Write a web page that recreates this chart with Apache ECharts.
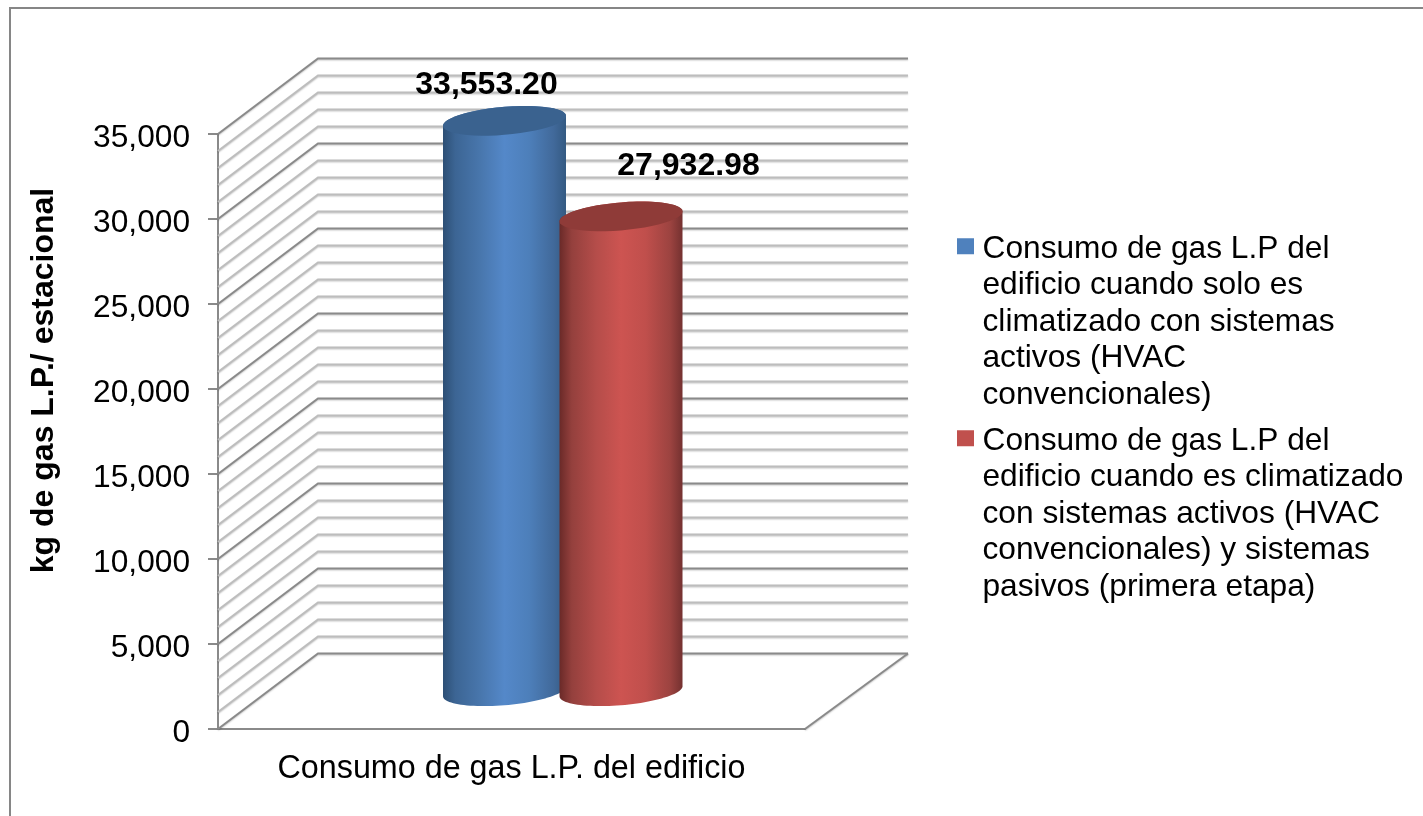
<!DOCTYPE html>
<html>
<head>
<meta charset="utf-8">
<style>html,body{margin:0;padding:0;background:#fff}#c{width:1423px;height:816px}</style>
<script src="https://cdn.jsdelivr.net/npm/echarts@6/dist/echarts.min.js"></script>
</head>
<body>
<div id="c"></div>
<script>
const categories = ['Consumo de gas L.P. del edificio'];
const serieNames = [
  ['Consumo de gas L.P del','edificio cuando solo es','climatizado con sistemas','activos (HVAC','convencionales)'],
  ['Consumo de gas L.P del','edificio cuando es climatizado','con sistemas activos (HVAC','convencionales) y sistemas','pasivos (primera etapa)']
];
const valoresActivos = [33553.20];
const valoresPasivos = [27932.98];
const etiquetasActivos = ['33,553.20'];
const etiquetasPasivos = ['27,932.98'];
const wallTicks = [0,1000,2000,3000,4000,5000,6000,7000,8000,9000,10000,11000,12000,13000,14000,15000,16000,17000,18000,19000,20000,21000,22000,23000,24000,25000,26000,27000,28000,29000,30000,31000,32000,33000,34000,35000];

const FONT = '"Liberation Sans", Arial, sans-serif';
const FS = 31.7, DX = 100, DY = 75.5, BACK_EXTRA = 103;
const RX = 61.5, RY = 14, SK = 5;

function wall(params, api) {
  const t = api.value(1);
  const y = api.coord([0, t])[1];
  const cs = params.coordSys;
  const major = t % 5000 === 0;
  const pts = [[cs.x, y],[cs.x + DX, y - DY],[cs.x + cs.width + BACK_EXTRA, y - DY]];
  const style = {fill:'none', stroke: major ? '#8a8a8a' : '#bdbdbd', lineWidth: 2,
    shadowColor:'rgba(0,0,0,0.22)', shadowBlur:1.5, shadowOffsetY:1};
  const kids = [{type:'polyline', shape:{points:pts}, style}];
  if (t === 0) {
    kids.push({type:'polyline', shape:{points:[[cs.x + cs.width, y],[cs.x + cs.width + BACK_EXTRA, y - DY]]}, style});
  }
  return {type:'group', children:kids};
}

function ellipsePts(cx, cy, from, to) {
  const out = [];
  for (let i = 0; i <= 48; i++) {
    const a = from + (to - from) * i / 48;
    out.push([cx + RX * Math.cos(a), cy + RY * Math.sin(a) - SK * Math.cos(a)]);
  }
  return out;
}

function cylinder(shift, stops, topColor, text, lx, ly) {
  return function (params, api) {
    const top = api.coord([api.value(0), api.value(1)]);
    const base = api.coord([api.value(0), 0]);
    const cx = top[0] + DX / 2 + shift;
    const topY = top[1] - DY / 2, baseY = base[1] - DY / 2;
    const body = ellipsePts(cx, baseY, 0, Math.PI).concat(ellipsePts(cx, topY, Math.PI, 2 * Math.PI));
    return {type:'group', children:[
      {type:'polygon', shape:{points:body}, style:{fill:{type:'linear',x:0,y:0,x2:1,y2:0,colorStops:stops}}},
      {type:'polygon', shape:{points:ellipsePts(cx, topY, 0, 2 * Math.PI)}, style:{fill:topColor}},
      {type:'text', x:cx + lx, y:topY + ly, style:{text:text, fill:'#000', font:'bold 32px ' + FONT, textAlign:'center', textVerticalAlign:'middle'}}
    ]};
  };
}

const blueStops = [{offset:0,color:'#2d4f75'},{offset:.1,color:'#3c6594'},{offset:.3,color:'#4876ac'},{offset:.5,color:'#5488c9'},{offset:.7,color:'#4d7fba'},{offset:.9,color:'#41699a'},{offset:1,color:'#345a82'}];
const redStops = [{offset:0,color:'#6a2a28'},{offset:.1,color:'#94403d'},{offset:.3,color:'#b54d4a'},{offset:.5,color:'#cd5451'},{offset:.7,color:'#c04f4c'},{offset:.9,color:'#9c4340'},{offset:1,color:'#743130'}];

const names = serieNames.map(l => l.join(' '));
const chart = echarts.init(document.getElementById('c'), null, {renderer:'canvas', width:1423, height:816});
chart.setOption({
  animation:false,
  backgroundColor:'#ffffff',
  textStyle:{fontFamily:FONT},
  grid:{left:218, top:134, width:587, height:595, containLabel:false},
  xAxis:{type:'category', data:categories,
    axisLine:{lineStyle:{color:'#8a8a8a',width:2}}, axisTick:{show:false},
    axisLabel:{color:'#000',fontSize:32.3,fontFamily:FONT,margin:24}},
  yAxis:{type:'value', min:0, max:35000, interval:5000, splitLine:{show:false},
    name:'kg de gas L.P./ estacional', nameLocation:'middle', nameGap:158, nameRotate:90,
    nameTextStyle:{color:'#000',fontSize:32,fontWeight:'bold',fontFamily:FONT,padding:[0,0,0,102]},
    axisLine:{show:true,lineStyle:{color:'#8a8a8a',width:2}},
    axisTick:{show:true,length:10,lineStyle:{color:'#8a8a8a',width:2}},
    axisLabel:{color:'#000',fontSize:FS,fontFamily:FONT,margin:28,verticalAlign:'top',lineHeight:9,
      formatter:v=>v.toLocaleString('en-US')}},
  legend:{orient:'vertical', left:957, top:231, padding:0, itemGap:9.5, itemWidth:20.5, itemHeight:182, data:names,
    icon:'path://M0 0M0 7H17V23H0ZM20.5 182',
    selectedMode:false, itemStyle:{borderWidth:0},
    formatter:n=>serieNames[names.indexOf(n)].join('\n'),
    textStyle:{color:'#000',fontSize:FS,lineHeight:36.5,fontFamily:FONT}},
  graphic:[{type:'polyline', silent:true, shape:{points:[[10,816],[10,8],[1423,8]]}, style:{fill:'none',stroke:'#868686',lineWidth:2}}],
  series:[
    {type:'custom', name:'Cuadrícula', silent:true, z:1, renderItem:wall, encode:{x:0,y:1}, data:wallTicks.map(t=>[0,t])},
    {type:'custom', name:names[0], z:2, itemStyle:{color:'#4f81bd'}, encode:{x:0,y:1},
      renderItem:cylinder(-57,blueStops,'#3a628f',etiquetasActivos[0],-18,-36),
      data:valoresActivos.map((v,i)=>[i,v])},
    {type:'custom', name:names[1], z:3, itemStyle:{color:'#c0504d'}, encode:{x:0,y:1},
      renderItem:cylinder(59.5,redStops,'#8f3b38',etiquetasPasivos[0],67.5,-50),
      data:valoresPasivos.map((v,i)=>[i,v])}
  ]
});
</script>
</body>
</html>
